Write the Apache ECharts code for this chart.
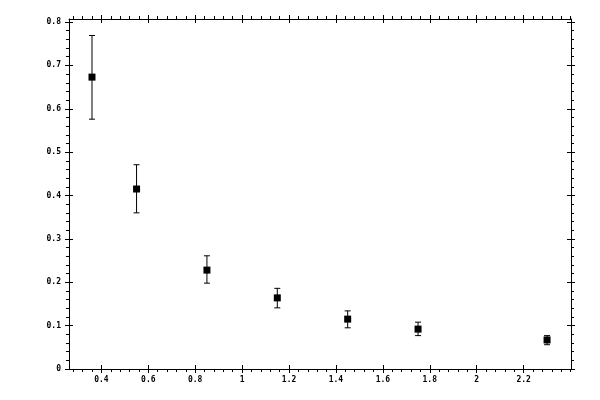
<!DOCTYPE html>
<html style="height: 100%">
<head>
<meta charset="utf-8">
<script src="https://cdn.jsdelivr.net/npm/echarts@6.0.0/dist/echarts.min.js"></script>
</head>
<body style="height: 100%; margin: 0; background: #fff">
<div id="container" style="width: 600px; height: 400px"></div>
<script type="text/javascript">
// data
var xVals = [0.36, 0.55, 0.85, 1.15, 1.45, 1.75, 2.3];
var yVals = [0.673, 0.415, 0.228, 0.164, 0.115, 0.092, 0.067];
var yLow  = [0.576, 0.360, 0.198, 0.141, 0.095, 0.077, 0.056];
var yHigh = [0.769, 0.471, 0.261, 0.186, 0.134, 0.108, 0.077];

var xMajor = [0.4, 0.6, 0.8, 1, 1.2, 1.4, 1.6, 1.8, 2, 2.2];
var yMajor = [0, 0.1, 0.2, 0.3, 0.4, 0.5, 0.6, 0.7, 0.8];
var xMin = 0.262, xMax = 2.402;
var yMin = 0, yMax = 0.807;

// minor ticks, every 0.04 on x and 0.02 on y
var xMinor = [];
for (var i = 7; i <= 60; i++) xMinor.push(+(i * 0.04).toFixed(2));
var yMinor = [];
for (var j = 0; j <= 40; j++) yMinor.push(+(j * 0.02).toFixed(2));

var points = [], bars = [];
for (var k = 0; k < xVals.length; k++) {
    points.push([xVals[k], yVals[k]]);
    bars.push([xVals[k], yLow[k], yHigh[k]]);
}

var black = '#000';
var labelFont = {color: black, fontFamily: 'DejaVu Sans Mono', fontSize: 8, fontWeight: 'bold'};

function makeAxis(dim, pos, kind) {
    var isX = dim === 'x';
    var ax = {
        type: 'value',
        position: pos,
        min: isX ? xMin : yMin,
        max: isX ? xMax : yMax,
        splitLine: {show: false},
        axisLine: {show: kind === 'out', onZero: false, lineStyle: {color: black, width: 1}},
        axisLabel: {show: false},
        axisTick: {show: true, lineStyle: {color: black, width: 1}}
    };
    if (kind === 'minor') {
        ax.axisTick.customValues = isX ? xMinor : yMinor;
        ax.axisTick.inside = false;
        ax.axisTick.length = 3;
    } else {
        ax.axisTick.customValues = isX ? xMajor : yMajor;
        ax.axisTick.inside = kind === 'in';
        ax.axisTick.length = 4;
    }
    if (kind === 'out' && (pos === 'bottom' || pos === 'left')) {
        ax.axisLabel = Object.assign({
            show: true,
            customValues: isX ? xMajor : yMajor,
            margin: isX ? 7 : 8
        }, labelFont);
    }
    return ax;
}

var xAxes = [], yAxes = [];
['bottom', 'top'].forEach(function (p) {
    ['out', 'in', 'minor'].forEach(function (kd) { xAxes.push(makeAxis('x', p, kd)); });
});
['left', 'right'].forEach(function (p) {
    ['out', 'in', 'minor'].forEach(function (kd) { yAxes.push(makeAxis('y', p, kd)); });
});

var dom = document.getElementById('container');
var myChart = echarts.init(dom);
var option = {
    animation: false,
    backgroundColor: '#fff',
    grid: {left: 69, right: 29, top: 19, bottom: 31, outerBoundsMode: 'none'},
    xAxis: xAxes,
    yAxis: yAxes,
    series: [
        {
            type: 'custom',
            xAxisIndex: 0,
            yAxisIndex: 0,
            data: bars,
            renderItem: function (params, api) {
                var lo = api.coord([api.value(0), api.value(1)]);
                var hi = api.coord([api.value(0), api.value(2)]);
                var st = {stroke: black, lineWidth: 1};
                return {
                    type: 'group',
                    children: [
                        {type: 'line', shape: {x1: lo[0], y1: lo[1], x2: hi[0], y2: hi[1]}, style: st},
                        {type: 'line', shape: {x1: lo[0] - 3, y1: lo[1], x2: lo[0] + 3, y2: lo[1]}, style: st},
                        {type: 'line', shape: {x1: hi[0] - 3, y1: hi[1], x2: hi[0] + 3, y2: hi[1]}, style: st}
                    ]
                };
            }
        },
        {
            type: 'scatter',
            xAxisIndex: 0,
            yAxisIndex: 0,
            symbol: 'rect',
            symbolSize: 7,
            itemStyle: {color: black, opacity: 1},
            data: points,
            z: 3
        }
    ]
};
myChart.setOption(option, true);
</script>
</body>
</html>
